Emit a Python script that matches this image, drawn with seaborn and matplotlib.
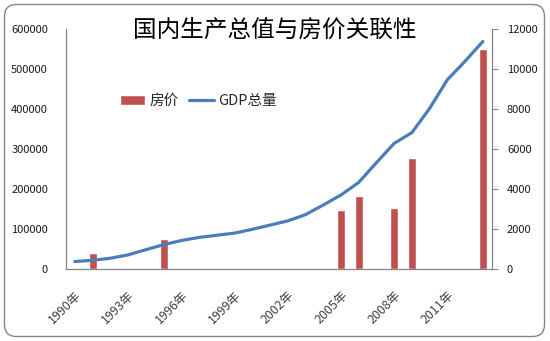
import numpy as np
import pandas as pd
import matplotlib
matplotlib.use("Agg")
import matplotlib.pyplot as plt
from matplotlib.patches import FancyBboxPatch
import seaborn as sns

# ---- data ----
years = list(range(1990, 2014))
year_labels = [f"{y}年" for y in years]
gdp = [18667, 21781, 26923, 35333, 48197, 60793, 71176, 78973, 84402, 89677,
       99214, 109655, 120332, 135822, 159878, 184937, 216314, 265810, 314045,
       340903, 401513, 473104, 519470, 568845]
price_years = [1991, 1995, 2005, 2006, 2008, 2009, 2013]
price_values = [800, 1500, 2950, 3660, 3030, 5530, 11000]
shown_tick_years = [1990, 1993, 1996, 1999, 2002, 2005, 2008, 2011]
left_ticks = [0, 100000, 200000, 300000, 400000, 500000, 600000]
right_ticks = [0, 2000, 4000, 6000, 8000, 10000, 12000]
title = "国内生产总值与房价关联性"

sns.set_style("white")
plt.rcParams["font.family"] = ["Noto Sans CJK SC", "DejaVu Sans"]

BLUE = "#4A7EBB"
RED = "#C0504D"
AX = "#868686"

fig = plt.figure(figsize=(5.5, 3.41), dpi=100)
ax1 = fig.add_axes([66 / 550, 1 - 269 / 341, (491.7 - 66) / 550, 240 / 341])
ax2 = ax1.twinx()

price_map = dict(zip(price_years, price_values))
df_bar = pd.DataFrame({"year": year_labels,
                       "price": [price_map.get(y, np.nan) for y in years]})
df_bar = df_bar.dropna()
sns.barplot(data=df_bar, x="year", y="price", order=year_labels, color=RED,
            saturation=1, width=0.45, ax=ax2, label="房价")

df_line = pd.DataFrame({"pos": np.arange(len(years)), "gdp": gdp})
sns.lineplot(data=df_line, x="pos", y="gdp", color=BLUE, linewidth=2.3,
             ax=ax1, label="GDP总量")

ax1.set_zorder(ax2.get_zorder() + 1)
ax1.patch.set_visible(False)

for a in (ax1, ax2):
    a.set_xlim(-0.5, len(years) - 0.5)
    a.set_xlabel("")
    a.set_ylabel("")
    a.grid(False)

ax1.set_ylim(0, 600000)
ax2.set_ylim(0, 12000)
ax1.set_yticks(left_ticks)
ax1.set_yticklabels([str(v) for v in left_ticks])
ax2.set_yticks(right_ticks)
ax2.set_yticklabels([str(v) for v in right_ticks])

pos = [years.index(y) for y in shown_tick_years]
ax1.set_xticks(pos)
ax1.set_xticklabels([f"{y}年" for y in shown_tick_years])

for lab in ax1.get_xticklabels():
    lab.set_rotation(45)
    lab.set_ha("right")
    lab.set_va("top")
    lab.set_rotation_mode("anchor")

ax1.tick_params(axis="y", length=0, pad=13, labelsize=8, labelcolor="#1a1a1a")
ax1.tick_params(axis="x", length=0, pad=14, labelsize=9, labelcolor="#404040")
ax2.tick_params(axis="y", length=4, width=0.8, color=AX, pad=7, labelsize=8,
                labelcolor="#1a1a1a", direction="out")

for a in (ax1, ax2):
    a.spines["top"].set_visible(False)
    for s in ("left", "right", "bottom"):
        a.spines[s].set_color(AX)
        a.spines[s].set_linewidth(0.9)
ax1.spines["right"].set_visible(False)
ax2.spines["left"].set_visible(False)
ax2.spines["bottom"].set_visible(False)

# legend
h2, l2 = ax2.get_legend_handles_labels()
h1, l1 = ax1.get_legend_handles_labels()
leg = ax1.legend(h2 + h1, l2 + l1, loc="center left",
                 bbox_to_anchor=(0.11, 0.70), ncol=2, frameon=False,
                 fontsize=10.5, handlelength=1.7, handletextpad=0.3,
                 columnspacing=0.7, borderpad=0)
if ax2.get_legend() is not None:
    ax2.get_legend().remove()

fig.text(0.5, 1 - 30 / 341, title, ha="center", va="center", fontsize=17,
         color="black")

border = FancyBboxPatch((0.045, 0.045), 5.40, 3.32,
                        boxstyle="round,pad=0,rounding_size=0.12",
                        transform=fig.dpi_scale_trans, fc="none", ec=AX,
                        lw=1.0, zorder=10)
fig.patches.append(border)

fig.savefig("out.png", dpi=100)
